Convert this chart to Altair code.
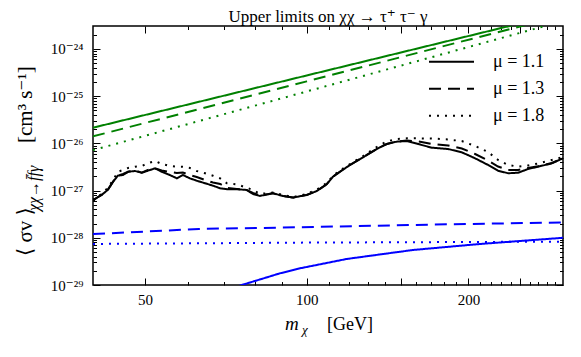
import altair as alt
import pandas as pd

# ---------------- data ----------------
MU = ["μ = 1.1", "μ = 1.3", "μ = 1.8"]

# black curves (shared mass grid, GeV)
mass_black = [40.0, 40.3, 41.5, 42.6, 43.6, 44.5, 45.5, 46.5, 47.9, 49.3,
              50.6, 52.2, 53.7, 55.6, 57.3, 58.8, 60.6, 62.4, 64.7, 66.9,
              69.0, 71.0, 74.1, 77.3, 79.4, 81.8, 86.5, 90.3, 94.3, 100.0,
              104.4, 108.9, 111.9, 115.3, 120.4, 127.3, 135.0, 140.9, 147.1, 153.6,
              161.2, 170.9, 183.3, 194.4, 205.8, 217.6, 227.1, 237.1, 247.5, 258.3,
              269.6, 285.9, 300.0]
black_11 = [5.9e-28, 6.6e-28, 8.1e-28, 1.03e-27, 1.55e-27, 2.07e-27, 2.14e-27, 2.51e-27, 2.60e-27, 2.39e-27,
            2.64e-27, 2.96e-27, 2.51e-27, 2.14e-27, 1.82e-27, 2.14e-27, 1.82e-27, 1.62e-27, 1.43e-27, 1.27e-27,
            1.12e-27, 1.07e-27, 1.07e-27, 1.03e-27, 8.5e-28, 7.7e-28, 8.8e-28, 7.7e-28, 7.1e-28, 8.1e-28,
            9.8e-28, 1.36e-27, 1.97e-27, 2.51e-27, 3.49e-27, 5.08e-27, 7.61e-27, 9.71e-27, 1.09e-26, 1.12e-26,
            9.71e-27, 8.11e-27, 7.61e-27, 6.47e-27, 4.83e-27, 3.49e-27, 2.64e-27, 2.33e-27, 2.39e-27, 2.87e-27,
            3.21e-27, 3.78e-27, 4.83e-27]
black_13 = [5.87e-28, 6.64e-28, 8.07e-28, 1.03e-27, 1.55e-27, 2.07e-27, 2.25e-27, 2.51e-27, 2.67e-27, 2.39e-27,
            2.73e-27, 2.96e-27, 2.67e-27, 2.48e-27, 2.36e-27, 2.42e-27, 2.14e-27, 1.94e-27, 1.68e-27, 1.48e-27,
            1.38e-27, 1.14e-27, 1.08e-27, 1.03e-27, 8.89e-28, 7.87e-28, 8.77e-28, 7.69e-28, 7.14e-28, 8.07e-28,
            9.82e-28, 1.36e-27, 1.97e-27, 2.51e-27, 3.49e-27, 5.08e-27, 7.61e-27, 9.71e-27, 1.10e-26, 1.15e-26,
            1.10e-26, 9.71e-27, 9.03e-27, 7.80e-27, 5.96e-27, 4.34e-27, 3.24e-27, 2.73e-27, 2.73e-27, 3.01e-27,
            3.29e-27, 3.84e-27, 4.83e-27]
black_18 = [6.32e-28, 6.80e-28, 8.47e-28, 1.14e-27, 1.68e-27, 2.51e-27, 2.73e-27, 3.01e-27, 3.21e-27, 3.32e-27,
            3.79e-27, 4.24e-27, 3.66e-27, 3.32e-27, 3.21e-27, 3.21e-27, 3.01e-27, 2.60e-27, 2.33e-27, 2.07e-27,
            1.82e-27, 1.43e-27, 1.36e-27, 1.15e-27, 1.03e-27, 8.47e-28, 9.12e-28, 8.07e-28, 7.31e-28, 8.47e-28,
            1.05e-27, 1.45e-27, 2.04e-27, 2.67e-27, 3.66e-27, 5.41e-27, 8.39e-27, 1.10e-26, 1.24e-26, 1.28e-26,
            1.28e-26, 1.27e-26, 1.21e-26, 1.12e-26, 8.81e-27, 6.58e-27, 4.45e-27, 3.49e-27, 3.21e-27, 3.40e-27,
            3.75e-27, 4.45e-27, 5.15e-27]

# green curves
mass_green = [40.0, 100.0, 300.0]
green_11 = [2.15e-26, 2.75e-25, 5.8e-24]
green_13 = [1.41e-26, 2.06e-25, 5.15e-24]
green_18 = [7.2e-27, 1.26e-25, 3.9e-24]

# blue curves
mass_blue_11 = [70.0, 75.7, 89.2, 97.2, 118.7, 157.7, 210.0, 300.0]
blue_11 = [7.3e-30, 1.0e-29, 1.77e-29, 2.26e-29, 3.56e-29, 5.52e-29, 7.39e-29, 1.0e-28]
mass_blue_13 = [40.0, 63.0, 97.0, 182.0, 300.0]
blue_13 = [1.20e-28, 1.54e-28, 1.67e-28, 1.93e-28, 2.11e-28]
mass_blue_18 = [40.0, 97.0, 300.0]
blue_18 = [7.4e-29, 7.9e-29, 8.3e-29]

x_major = [50, 100, 150, 200, 250]
x_minor = [60, 70, 80, 90, 110, 120, 130, 140, 160, 170, 180, 190,
           210, 220, 230, 240, 260, 270, 280, 290]
y_major = [1e-29, 1e-28, 1e-27, 1e-26, 1e-25, 1e-24]
y_minor = [k * 10.0 ** e for e in range(-29, -24) for k in range(2, 10)] + [2e-24]

# ---------------- table ----------------
rows = []
def add(group, mu, masses, values):
    for m, v in zip(masses, values):
        rows.append({"group": group, "mu": mu, "series": group + mu, "mass": m, "sv": v})

add("green", MU[0], mass_green, green_11)
add("green", MU[1], mass_green, green_13)
add("green", MU[2], mass_green, green_18)
add("black", MU[0], mass_black, black_11)
add("black", MU[1], mass_black, black_13)
add("black", MU[2], mass_black, black_18)
add("blue", MU[0], mass_blue_11, blue_11)
add("blue", MU[1], mass_blue_13, blue_13)
add("blue", MU[2], mass_blue_18, blue_18)
df = pd.DataFrame(rows)

SERIF = "Liberation Serif, DejaVu Serif, serif"
xs = alt.Scale(type="log", domain=[40, 300], nice=False)
ys = alt.Scale(type="log", domain=[1e-29, 3.07e-24], nice=False)

lines = alt.Chart(df).mark_line(clip=True, strokeWidth=2).encode(
    x=alt.X("mass:Q", scale=xs, axis=None),
    y=alt.Y("sv:Q", scale=ys, axis=None),
    color=alt.Color("group:N",
                    scale=alt.Scale(domain=["green", "black", "blue"],
                                    range=["#008000", "#000000", "#0000ff"]),
                    legend=None),
    strokeDash=alt.StrokeDash("mu:N",
                              scale=alt.Scale(domain=MU, range=[[1, 0], [12, 7], [2, 6]]),
                              legend=alt.Legend(title=None, orient="none", legendX=335, legendY=22.5,
                                                symbolType="stroke", symbolSize=2025,
                                                symbolStrokeWidth=2, symbolStrokeColor="black",
                                                labelFont=SERIF, labelFontSize=18, labelColor="black",
                                                labelOffset=18, rowPadding=0, clipHeight=26.5)),
    detail="series:N",
)

anchor_df = pd.DataFrame({"mass": [100.0], "sv": [1e-27]})

ylab_expr = ("'10' + (datum.value < 3e-29 ? '⁻²⁹' : datum.value < 3e-28 ? '⁻²⁸' : "
             "datum.value < 3e-27 ? '⁻²⁷' : datum.value < 3e-26 ? '⁻²⁶' : "
             "datum.value < 3e-25 ? '⁻²⁵' : '⁻²⁴')")
xlab_expr = "(datum.value == 150 || datum.value == 250) ? '' : datum.label"

def axis_layer(xax, yax):
    return alt.Chart(anchor_df).mark_point(opacity=0).encode(
        x=alt.X("mass:Q", scale=xs, axis=xax),
        y=alt.Y("sv:Q", scale=ys, axis=yax),
    )

MAJ, MIN = 7, 3.5
ax_main = axis_layer(
    alt.Axis(orient="bottom", values=x_major, tickSize=MAJ, offset=-MAJ, labelExpr=xlab_expr,
             labelPadding=7, labelFontSize=15, labelOverlap=False, labelFlush=False, title=None),
    alt.Axis(orient="left", values=y_major, tickSize=MAJ, offset=-MAJ, labelExpr=ylab_expr,
             labelPadding=10, labelFontSize=15, labelOverlap=False, labelFlush=False, title=None),
)
ax_minor = axis_layer(
    alt.Axis(orient="bottom", values=x_minor, tickSize=MIN, offset=-MIN, labels=False, title=None),
    alt.Axis(orient="left", values=y_minor, tickSize=MIN, offset=-MIN, labels=False, title=None),
)
ax_top = axis_layer(
    alt.Axis(orient="top", values=x_major, tickSize=MAJ, offset=-MAJ, labels=False, title=None),
    alt.Axis(orient="right", values=y_major, tickSize=MAJ, offset=-MAJ, labels=False, title=None),
)
ax_top_minor = axis_layer(
    alt.Axis(orient="top", values=x_minor, tickSize=MIN, offset=-MIN, labels=False, title=None),
    alt.Axis(orient="right", values=y_minor, tickSize=MIN, offset=-MIN, labels=False, title=None),
)

def label(text, x, y, size, angle=0, style="normal", align="left"):
    return alt.Chart(anchor_df).mark_text(
        font=SERIF, fontSize=size, angle=angle, align=align, baseline="alphabetic",
        fontStyle=style, color="black",
    ).encode(x=alt.value(x), y=alt.value(y), text=alt.value(text))

titles = [
    label("Upper limits on  χχ → τ⁺ τ⁻  γ", 235, -4, 17, align="center"),
    label("⟨ σv ⟩", -61, 230, 21, angle=270),
    label("χχ→f̄fγ", -54, 185, 16, angle=270, style="italic"),
    label("[cm³ s⁻¹]", -61, 117, 21, angle=270),
    label("m", 192, 304, 19, style="italic"),
    label("χ", 209, 308, 13, style="italic"),
    label("[GeV]", 234, 304, 18),
]

chart = alt.layer(lines, ax_main, ax_minor, ax_top, ax_top_minor, *titles).resolve_axis(
    x="independent", y="independent"
).properties(
    width=470, height=259,
    autosize=alt.AutoSizeParams(type="none"),
    padding={"left": 85, "top": 18, "right": 10, "bottom": 64},
).configure_view(stroke="black", strokeWidth=1.5).configure_axis(
    domain=False, grid=False, tickColor="black", tickWidth=1,
    labelColor="black", labelFont=SERIF,
)

chart.save("out.html", embed_options={"renderer": "svg", "actions": False})
